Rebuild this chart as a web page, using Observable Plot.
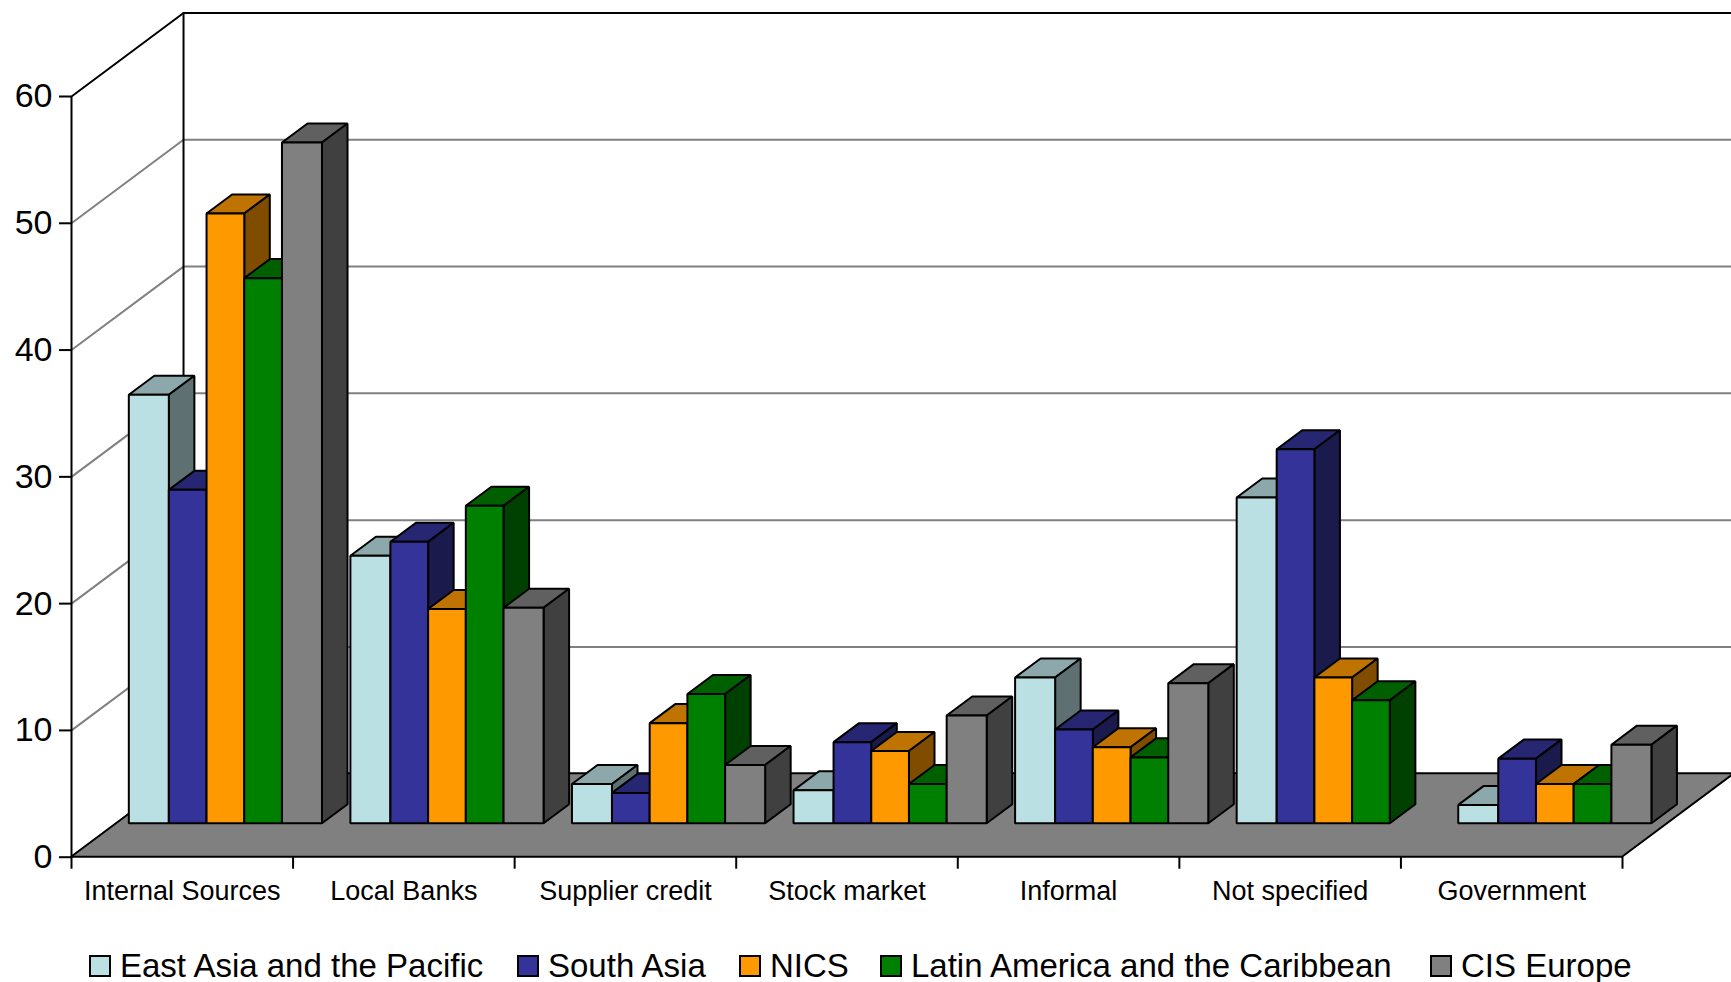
<!DOCTYPE html>
<html>
<head>
<meta charset="utf-8">
<script src="https://cdn.jsdelivr.net/npm/d3@7"></script>
<script src="https://cdn.jsdelivr.net/npm/@observablehq/plot@0.6"></script>
<style>
  html, body { margin: 0; padding: 0; background: #fff; overflow: hidden; }
  body { font-family: "Liberation Sans", Arial, sans-serif; color: #000; }
  #legend { position: relative; height: 37px; font-size: 33px; line-height: 37px; white-space: nowrap; }
  #legend .swatch { width: 18px; height: 18px; border: 2px solid #000; margin-right: 9px; flex: none; }
  #legend .entry { position: absolute; top: 2px; display: flex; align-items: center; }
</style>
</head>
<body>
<div id="chart"></div>
<div id="legend"></div>
<script>
// Sources of finance by region, in percent
const categories = ["Internal Sources", "Local Banks", "Supplier credit", "Stock market", "Informal", "Not specified", "Government"];
const seriesNames = ["East Asia and the Pacific", "South Asia", "NICS", "Latin America and the Caribbean", "CIS Europe"];

const eastAsia = [33.8, 21.1, 3.1, 2.6, 11.5, 25.7, 1.45];
const southAsia = [26.3, 22.2, 2.4, 6.4, 7.4, 29.5, 5.1];
const nics = [48.1, 16.9, 7.9, 5.7, 6.0, 11.5, 3.1];
const latinAmerica = [43.0, 25.05, 10.2, 3.1, 5.2, 9.7, 3.1];
const cisEurope = [53.7, 17.0, 4.6, 8.5, 11.05, null, 6.2];
const seriesValues = [eastAsia, southAsia, nics, latinAmerica, cisEurope];

const frontColors = ["#BBE0E3", "#333399", "#FF9900", "#008000", "#808080"];
const topColors = ["#8CA8AA", "#262673", "#BF7300", "#006000", "#606060"];
const sideColors = ["#5E7071", "#1A1A4D", "#804D00", "#004000", "#404040"];
const yTicks = [0, 10, 20, 30, 40, 50, 60];

// Oblique projection: a point at depth d (0 = front, 1 = back wall) shifts right and up
const depthX = 0.5056;
const depthY = 6.585;
const at = (c, v, d = 0) => ({x: c + d * depthX, y: v + d * depthY});

// A four-cornered face, drawn as a two-row area so it goes through both scales
const quad = (a, b, c, d, fill, extra = {}) =>
  Plot.area(
    [{x1: a.x, y1: a.y, x2: d.x, y2: d.y}, {x1: b.x, y1: b.y, x2: c.x, y2: c.y}],
    {x1: "x1", y1: "y1", x2: "x2", y2: "y2", fill, stroke: "#000", strokeWidth: 2, strokeLinejoin: "miter", ...extra}
  );

const polyline = (points, stroke, strokeWidth) =>
  Plot.line(points, {x: "x", y: "y", stroke, strokeWidth, strokeLinejoin: "miter"});

// Bars occupy a slice of the floor's depth; outer bars of a cluster are slightly wider
const barNear = 0.4;
const barFar = 0.628;
const clusterInset = 0.0587;
const barWidths = [0.1806, 0.1702, 0.1702, 0.1702, 0.1806];
const barEdges = barWidths.reduce((e, w) => [...e, e[e.length - 1] + w], [clusterInset]);

function barFaces(c, s, value) {
  const x0 = c + barEdges[s];
  const x1 = c + barEdges[s + 1];
  return [
    // top
    quad(at(x0, value, barNear), at(x0, value, barFar), at(x1, value, barFar), at(x1, value, barNear), topColors[s]),
    // right side
    quad(at(x1, value, barNear), at(x1, value, barFar), at(x1, 0, barFar), at(x1, 0, barNear), sideColors[s]),
    // front
    quad(at(x0, value, barNear), at(x1, value, barNear), at(x1, 0, barNear), at(x0, 0, barNear), frontColors[s])
  ];
}

const n = categories.length;
const rightEdge = n + depthX;

const chart = Plot.plot({
  width: 1731,
  height: 945,
  marginLeft: 71,
  marginRight: 109,
  marginTop: 96,
  marginBottom: 88.3,
  x: {domain: [0, n], axis: null},
  y: {domain: [0, 60], axis: null},
  style: {fontFamily: '"Liberation Sans", Arial, sans-serif', color: "#000", background: "transparent", overflow: "hidden"},
  marks: [
    // gridlines across side wall and back wall
    ...yTicks.filter((v) => v > 0 && v < 60).map((v) =>
      polyline([at(0, v), at(0, v, 1), at(rightEdge, v, 1)], "#808080", 2)
    ),
    // wall outline
    polyline([at(0, 0), at(0, 60), at(0, 60, 1), at(rightEdge, 60, 1)], "#000", 2),
    polyline([at(0, 60, 1), at(0, 0, 1)], "#000", 2),
    // floor
    quad(at(0, 0), at(0, 0, 1), at(n, 0, 1), at(n, 0), "#808080", {strokeWidth: 2}),
    // bars, painted left to right so nearer faces overlap correctly
    ...categories.flatMap((_, c) =>
      seriesValues.flatMap((values, s) => (values[c] == null ? [] : barFaces(c, s, values[c])))
    ),
    // axes
    Plot.axisY(yTicks, {anchor: "left", tickSize: 12, tickPadding: 7, fontSize: 34, strokeWidth: 2, label: null}),
    Plot.axisX(d3.range(n + 1), {anchor: "bottom", tickSize: 12, tickFormat: () => "", strokeWidth: 2, label: null}),
    Plot.axisX(d3.range(n).map((i) => i + 0.5), {
      anchor: "bottom",
      tickSize: 0,
      tickPadding: 24,
      fontSize: 27,
      tickFormat: (d) => categories[Math.floor(d)],
      label: null
    })
  ]
});
document.getElementById("chart").appendChild(chart);
chart.style.display = "block";

// Legend row under the chart
const legendLeft = [89, 517, 739, 880, 1430];
const legend = document.getElementById("legend");
seriesNames.forEach((name, i) => {
  const entry = document.createElement("div");
  entry.className = "entry";
  entry.style.left = `${legendLeft[i]}px`;
  const swatch = document.createElement("span");
  swatch.className = "swatch";
  swatch.style.background = frontColors[i];
  const label = document.createElement("span");
  label.textContent = name;
  entry.append(swatch, label);
  legend.appendChild(entry);
});
</script>
</body>
</html>
